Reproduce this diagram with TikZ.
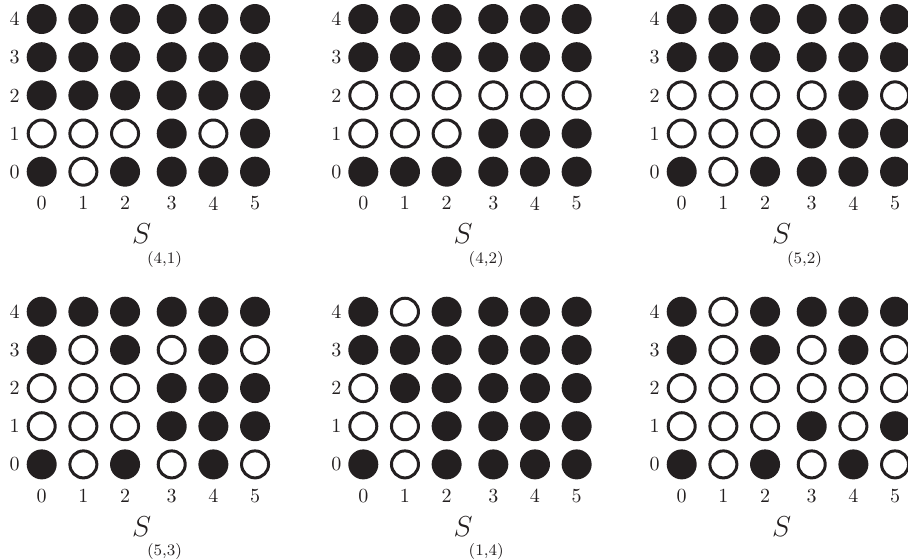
\documentclass[tikz,border=0pt]{standalone}
\usetikzlibrary{positioning}

\definecolor{dotblack}{RGB}{35,31,32}

% dot patterns, top row (4) first
\def\patA{{1,1,1,1,1,1},{1,1,1,1,1,1},{1,1,1,1,1,1},{0,0,0,1,0,1},{1,0,1,1,1,1}}
\def\patB{{1,1,1,1,1,1},{1,1,1,1,1,1},{0,0,0,0,0,0},{0,0,0,1,1,1},{1,1,1,1,1,1}}
\def\patC{{1,1,1,1,1,1},{1,1,1,1,1,1},{0,0,0,0,1,0},{0,0,0,1,1,1},{1,0,1,1,1,1}}
\def\patD{{1,1,1,1,1,1},{1,0,1,0,1,0},{0,0,0,1,1,1},{0,0,0,1,1,1},{1,0,1,0,1,0}}
\def\patE{{1,0,1,1,1,1},{1,1,1,1,1,1},{0,1,1,1,1,1},{0,0,1,1,1,1},{1,0,1,1,1,1}}
\def\patF{{1,0,1,1,1,1},{1,0,1,0,1,0},{0,0,0,0,0,0},{0,0,0,1,0,1},{1,0,1,0,1,0}}

\begin{document}
\begin{tikzpicture}[
        x=0.5pt, y=-0.5pt,
        dot1/.style={circle, fill=dotblack, minimum size=15pt, inner sep=0pt},
        dot0/.style={circle, draw=dotblack, line width=1.5pt, fill=white, minimum size=13.5pt, inner sep=0pt},
        idx/.style={font=\normalsize, text=dotblack, inner sep=0pt},
        setname/.style={font=\Large, text=dotblack, inner sep=0pt, anchor=base west},
        subname/.style={font=\footnotesize, text=dotblack, inner sep=0pt, anchor=base west}
    ]
        \useasboundingbox (0,0) rectangle (908,558);
        \foreach \tag/\ox/\oy/\sub in {A/41.7/19/{(4,1)}, B/363.3/19/{(4,2)}, C/681.7/19/{(5,2)},
                                     D/41.7/311.7/{(5,3)}, E/363.3/311.7/{(1,4)}, F/681.7/311.7/{}} {
            % dots
            \expandafter\let\expandafter\curpat\csname pat\tag\endcsname
            \foreach \row [count=\r from 0] in \curpat {
                \foreach \b [count=\c from 0] in \row {
                    \pgfmathsetmacro{\xo}{41.67*\c + (\c>2)*5}
                    \node[dot\b] (\tag-\r-\c) at (\ox+\xo, \oy+38.17*\r) {};
                }
                \pgfmathtruncatemacro{\lab}{4-\r}
                \node[idx] (\tag-row\r) at (\ox-27, \oy+38.17*\r) {\lab};
            }
            % column numbers
            \foreach \c in {0,...,5} {
                \pgfmathsetmacro{\xo}{41.67*\c + (\c>2)*5}
                \node[idx] (\tag-col\c) at (\ox+\xo, \oy+184.3) {\c};
            }
            % set name and its lowered index
            \node[setname] (\tag-name) at (\ox+90, \oy+224.5) {$S$};
            \node[subname] (\tag-sub) at (\ox+105, \oy+244) {\sub};
        }
    \end{tikzpicture}
\end{document}
